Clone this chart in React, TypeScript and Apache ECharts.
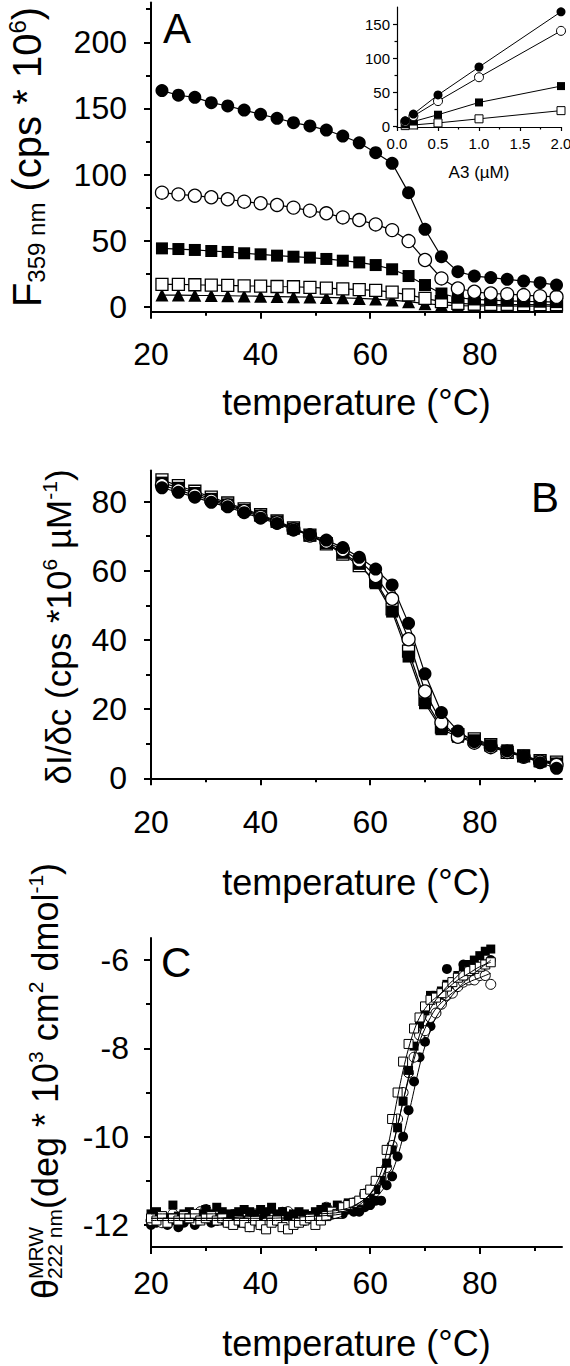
import React, { useEffect, useRef } from 'react';
import * as echarts from 'echarts';

const FONT = "'Liberation Sans', Arial, Helvetica, sans-serif";

// ---------- Panel A (fluorescence vs temperature) ----------
const temps = [22, 25, 28, 31, 34, 37, 40, 43, 46, 49, 52, 55, 58, 61, 64, 67, 70, 73, 76, 79, 82, 85, 88, 91, 94];
const aFilledCircle = [163.5, 160, 158.4, 154.4, 151.9, 148.8, 145.6, 142.6, 139.3, 136.8, 133.7, 129.2, 124.1, 116.6, 108.6, 86.4, 58.7, 38, 26.7, 23.4, 22.2, 20.9, 19.6, 18.4, 16.6];
const aOpenCircle = [86.4, 85.1, 84.1, 82.9, 81.4, 79.6, 78.4, 77.1, 75.1, 72.8, 70.8, 67.7, 65.7, 62.4, 58.1, 49.8, 35.5, 21.6, 14.0, 11.5, 10.2, 9.7, 9.0, 8.2, 7.7];
const aFilledSquare = [44.3, 43.8, 43.1, 42.3, 41.6, 40.6, 39.8, 38.8, 38.0, 37.3, 36.3, 35.0, 33.7, 31.7, 28.5, 23.4, 16.6, 10.2, 7.0, 5.7, 5.2, 4.7, 4.2, 4.0, 3.7];
const aOpenSquare = [17.1, 17.1, 16.8, 16.6, 16.3, 16.0, 15.8, 15.5, 15.3, 14.8, 14.2, 13.7, 13.2, 12.5, 11.2, 9.2, 6.5, 4.0, 2.7, 2.2, 2.0, 1.9, 1.8, 1.8, 1.7];
const aTriangle = [9.0, 9.0, 8.8, 8.7, 8.5, 8.3, 8.1, 7.9, 7.7, 7.5, 7.2, 6.9, 6.5, 6.0, 5.2, 4.0, 2.5, 1.5, 1.0, 0.9, 0.8, 0.8, 0.7, 0.7, 0.6];

// inset
const insetConc = [0.1, 0.2, 0.5, 1.0, 2.0];
const insetFilledCircle = [8, 18, 46, 87, 168];
const insetOpenCircle = [7, 15, 37, 72, 140];
const insetFilledSquare = [3, 7, 17, 35, 59];
const insetOpenSquare = [1, 2, 5, 11, 23];

// ---------- Panel B ----------
const bFilledCircle = [84.0, 82.7, 81.3, 79.8, 78.5, 76.8, 75.2, 73.7, 71.8, 70.4, 68.9, 66.7, 63.9, 60.5, 55.9, 44.8, 30.2, 19.0, 13.7, 10.6, 9.3, 7.9, 6.3, 4.5, 2.9];
const bOpenCircle = [84.8, 83.3, 81.9, 80.3, 78.9, 77.3, 75.6, 74.0, 72.0, 70.2, 68.4, 66.0, 63.0, 58.5, 51.9, 40.2, 25.1, 16.1, 12.0, 10.3, 9.0, 7.6, 6.2, 4.8, 3.9];
const bFilledSquare = [85.5, 84.0, 82.5, 80.8, 79.2, 77.6, 75.9, 74.2, 72.2, 70.2, 68.0, 65.2, 62.0, 56.4, 48.2, 35.2, 21.7, 14.2, 12.0, 11.0, 9.5, 8.1, 6.6, 4.9, 4.3];
const bOpenSquare = [86.3, 84.6, 83.0, 81.3, 79.6, 77.9, 76.2, 74.4, 72.4, 70.3, 67.8, 64.8, 61.5, 57.0, 49.0, 36.8, 22.8, 14.8, 12.6, 11.4, 9.7, 7.5, 6.5, 5.1, 4.7];

// ---------- Panel C (CD) ----------
const cTemps = [20, 21, 22, 23, 24, 25, 26, 27, 28, 29, 30, 31, 32, 33, 34, 35, 36, 37, 38, 39, 40, 41, 42, 43, 44, 45, 46, 47, 48, 49, 50, 51, 52, 53, 54, 55, 56, 57, 58, 59, 60, 61, 62, 63, 64, 65, 66, 67, 68, 69, 70, 71, 72, 73, 74, 75, 76, 77, 78, 79, 80, 81, 82];
const cFilledCircle = [-12.0, -11.95, -11.85, -12.0, -11.9, -12.05, -11.95, -11.85, -12.0, -11.9, -11.8, -11.95, -11.85, -11.9, -11.8, -11.75, -11.95, -11.9, -12.05, -11.85, -11.8, -11.9, -11.75, -11.85, -11.7, -11.8, -11.9, -11.95, -11.85, -11.8, -11.75, -11.85, -11.8, -11.75, -11.7, -11.75, -11.65, -11.7,
  -11.7, -11.6, -11.55, -11.45, -11.45, -11.1, -10.9, -10.45, -10.0, -9.4, -8.75, -8.2, -7.85, -7.5, -7.2, -6.95, -6.2, -6.7, -6.55, -6.1, -6.4, -6.3, -6.2, -6.1, -6.0];
const cOpenCircle = [-11.9, -11.8, -11.95, -11.85, -11.75, -11.9, -11.8, -11.85, -11.9, -11.7, -11.65, -11.8, -11.9, -11.85, -11.95, -11.9, -11.8, -11.95, -11.85, -11.75, -12.0, -11.95, -11.85, -11.9, -11.75, -11.7, -11.85, -11.8, -11.9, -11.85, -11.75, -11.7, -11.6, -11.75, -11.65, -11.6, -11.55, -11.5,
  -11.5, -11.3, -11.25, -11.1, -10.95, -10.7, -10.2, -9.6, -9.0, -8.55, -8.2, -7.7, -7.6, -7.3, -7.2, -7.0, -6.8, -6.75, -6.6, -6.5, -6.45, -6.45, -6.35, -6.35, -6.55];
const cFilledSquare = [-11.75, -11.7, -11.8, -11.85, -11.55, -11.8, -11.75, -11.7, -11.8, -11.75, -11.65, -11.75, -11.6, -11.7, -11.75, -11.8, -11.7, -11.65, -11.7, -11.75, -11.65, -11.7, -11.6, -11.75, -11.7, -11.8, -11.75, -11.7, -11.75, -11.8, -11.7, -11.65, -11.6, -11.75, -11.55, -11.6, -11.5, -11.55,
  -11.5, -11.4, -11.35, -11.2, -11.0, -10.6, -10.3, -9.8, -9.2, -8.5, -7.95, -7.45, -7.15, -6.8, -6.8, -6.7, -6.55, -6.5, -6.35, -6.25, -6.1, -6.0, -5.9, -5.8, -5.75];
const cOpenSquare = [-11.85, -11.9, -11.8, -11.95, -11.85, -11.9, -11.8, -11.85, -11.75, -11.9, -11.85, -11.8, -11.9, -11.85, -11.95, -12.0, -11.9, -11.95, -12.05, -11.9, -12.0, -12.1, -11.95, -11.9, -12.05, -12.1, -12.0, -11.95, -11.9, -11.85, -12.0, -11.9, -11.8, -11.7, -11.75, -11.6, -11.55, -11.5,
  -11.45, -11.3, -11.2, -11.0, -10.8, -10.3, -9.6, -9.0, -8.3, -7.9, -7.55, -7.3, -7.05, -6.9, -6.85, -6.75, -6.6, -6.5, -6.4, -6.35, -6.25, -6.2, -6.15, -6.1, -6.05];

const cFitTemps = [20, 30, 40, 50, 55, 58, 60, 62, 63, 64, 65, 66, 67, 68, 69, 70, 71, 72, 74, 76, 78, 80, 82];
const cFitFilledCircle = [-11.85, -11.85, -11.85, -11.8, -11.75, -11.65, -11.5, -11.25, -11.05, -10.8, -10.45, -10.0, -9.5, -8.95, -8.4, -7.95, -7.6, -7.3, -6.95, -6.65, -6.4, -6.2, -6.0];
const cFitFilledSquare = [-11.75, -11.75, -11.72, -11.7, -11.65, -11.5, -11.3, -10.95, -10.65, -10.25, -9.75, -9.2, -8.65, -8.15, -7.7, -7.35, -7.1, -6.9, -6.6, -6.35, -6.1, -5.9, -5.7];
const cFitOpenCircle = [-11.85, -11.85, -11.8, -11.75, -11.7, -11.5, -11.3, -11.0, -10.7, -10.3, -9.75, -9.2, -8.7, -8.25, -7.85, -7.55, -7.3, -7.1, -6.85, -6.65, -6.5, -6.4, -6.3];
const cFitOpenSquare = [-11.9, -11.9, -11.9, -11.9, -11.8, -11.55, -11.3, -10.8, -10.35, -9.75, -9.1, -8.5, -8.0, -7.6, -7.3, -7.1, -6.95, -6.85, -6.65, -6.45, -6.3, -6.15, -6.05];

// ---------- ticks ----------
const xTicks = [20, 40, 60, 80];
const xMinorTicks = [30, 50, 70, 90];
const aYTicks = [0, 50, 100, 150, 200];
const aYMinorTicks = [25, 75, 125, 175, 225];
const bYTicks = [0, 20, 40, 60, 80];
const bYMinorTicks = [10, 30, 50, 70];
const cYTicks = [-12, -10, -8, -6];
const cYMinorTicks = [-11, -9, -7];
const insetXTicks = [0, 0.5, 1.0, 1.5, 2.0];
const insetXMinorTicks = [0.25, 0.75, 1.25, 1.75];
const insetYTicks = [0, 50, 100, 150];
const insetYMinorTicks = [25, 75, 125];

const xName = 'temperature (°C)';
const insetXName = 'A3 (µM)';

function measure(text: string, size: number): number {
  const ctx = document.createElement('canvas').getContext('2d') as CanvasRenderingContext2D;
  ctx.font = `${size}px ${FONT}`;
  return ctx.measureText(text).width;
}

type Frag = { t: string; k: 'n' | 'sup' | 'sub' } | { stack: [string, string] };

function rotatedTitle(cx: number, cy: number, main: number, small: number, frags: Frag[], supDy: number, subDy: number) {
  const items: { t: string; size: number; u: number; dy: number }[] = [];
  let u = 0;
  for (const f of frags) {
    if ('stack' in f) {
      const w1 = measure(f.stack[0], small);
      const w2 = measure(f.stack[1], small);
      items.push({ t: f.stack[0], size: small, u, dy: supDy });
      items.push({ t: f.stack[1], size: small, u, dy: subDy });
      u += Math.max(w1, w2);
    } else {
      const size = f.k === 'n' ? main : small;
      const dy = f.k === 'sup' ? supDy : f.k === 'sub' ? subDy : 0;
      items.push({ t: f.t, size, u, dy });
      u += measure(f.t, size);
    }
  }
  const W = u;
  return {
    type: 'group',
    x: cx,
    y: cy,
    rotation: Math.PI / 2,
    silent: true,
    children: items.map((it) => ({
      type: 'text',
      x: it.u - W / 2,
      y: it.dy - 0.3465 * it.size,
      style: {
        text: it.t,
        fontSize: it.size,
        fontFamily: FONT,
        fill: '#000',
        align: 'left',
        verticalAlign: 'middle',
      },
    })),
  };
}

function panelLetter(text: string, x: number, baseline: number, align: string) {
  return {
    type: 'text',
    x,
    y: baseline - 0.3465 * 42,
    silent: true,
    style: { text, fontSize: 42, fontFamily: FONT, fill: '#000', align, verticalAlign: 'middle' },
  };
}

function axisPair(
  dim: 'x' | 'y', grid: number, min: number, max: number, major: number[], minor: number[],
  o: { margin: number; font: number; lw: number; len: number; minorLen: number; fmt?: (v: number) => string; name?: string; nameGap?: number; nameSize?: number }
) {
  const position = dim === 'x' ? 'bottom' : 'left';
  const majorAxis: any = {
    type: 'value', gridIndex: grid, min, max, position,
    axisLine: { show: true, onZero: false, lineStyle: { color: '#000', width: o.lw } },
    axisTick: { show: true, inside: false, length: o.len, customValues: major, lineStyle: { color: '#000', width: o.lw } },
    axisLabel: {
      show: true, customValues: major, margin: o.margin, fontSize: o.font, fontFamily: FONT, color: '#000',
      formatter: o.fmt ? o.fmt : (v: number) => String(v),
    },
    splitLine: { show: false },
  };
  if (o.name) {
    majorAxis.name = o.name;
    majorAxis.nameLocation = 'middle';
    majorAxis.nameGap = o.nameGap;
    majorAxis.nameTextStyle = { fontSize: o.nameSize, fontFamily: FONT, color: '#000' };
  }
  const minorAxis: any = {
    type: 'value', gridIndex: grid, min, max, position,
    axisLine: { show: false, onZero: false },
    axisTick: { show: true, inside: false, length: o.minorLen, customValues: minor, lineStyle: { color: '#000', width: o.lw } },
    axisLabel: { show: false },
    splitLine: { show: false },
  };
  return [majorAxis, minorAxis];
}

type Kind = 'fc' | 'oc' | 'fs' | 'os' | 'tri';

function markerStyle(kind: Kind, bw: number) {
  const open = kind === 'oc' || kind === 'os';
  return {
    symbol: kind === 'fc' || kind === 'oc' ? 'circle' : kind === 'tri' ? 'triangle' : 'rect',
    itemStyle: open
      ? { color: '#fff', borderColor: '#000', borderWidth: bw, opacity: 1 }
      : { color: '#000', borderColor: '#000', borderWidth: 0, opacity: 1 },
  };
}

function lineSeries(name: string, xs: number[], ys: number[], kind: Kind, size: number, axis: number, lw: number, bw: number) {
  const m = markerStyle(kind, bw);
  return {
    name, type: 'line', xAxisIndex: axis, yAxisIndex: axis,
    data: xs.map((x, i) => [x, ys[i]]),
    symbol: m.symbol, symbolSize: kind === 'tri' ? size + 1 : kind === 'fs' || kind === 'os' ? size - 1 : size,
    showSymbol: true, showAllSymbol: true, itemStyle: m.itemStyle,
    lineStyle: { color: '#000', width: lw },
    emphasis: { disabled: true }, silent: true, clip: false,
  };
}

function scatterSeries(name: string, xs: number[], ys: number[], kind: Kind, size: number, axis: number, bw: number) {
  const m = markerStyle(kind, bw);
  return {
    name, type: 'scatter', xAxisIndex: axis, yAxisIndex: axis,
    data: xs.map((x, i) => [x, ys[i]]),
    symbol: m.symbol, symbolSize: size, itemStyle: m.itemStyle,
    emphasis: { disabled: true }, silent: true, clip: false,
  };
}

function fitSeries(name: string, xs: number[], ys: number[], axis: number) {
  return {
    name, type: 'line', xAxisIndex: axis, yAxisIndex: axis,
    data: xs.map((x, i) => [x, ys[i]]),
    showSymbol: false, symbol: 'none', smooth: 0.4,
    lineStyle: { color: '#000', width: 1 },
    emphasis: { disabled: true }, silent: true,
  };
}

function buildOption() {
  const gridBase = { containLabel: false, outerBoundsMode: 'none', show: false };
  const grid = [
    { left: 151, top: 2.6, width: 411, height: 309.1, ...gridBase },
    { left: 151, top: 470.5, width: 411, height: 307.8, ...gridBase },
    { left: 151, top: 938, width: 411, height: 309, ...gridBase },
    { left: 397, top: 7, width: 164, height: 120, ...gridBase },
  ];

  const [axA, axAm] = axisPair('x', 0, 20, 95, xTicks, xMinorTicks, { margin: 26, font: 32, lw: 2, len: 7, minorLen: 4, name: xName, nameGap: 73, nameSize: 36 });
  const [axB, axBm] = axisPair('x', 1, 20, 95, xTicks, xMinorTicks, { margin: 28, font: 32, lw: 2, len: 7, minorLen: 4, name: xName, nameGap: 86, nameSize: 36 });
  const [axC, axCm] = axisPair('x', 2, 20, 95, xTicks, xMinorTicks, { margin: 20, font: 32, lw: 2, len: 7, minorLen: 4, name: xName, nameGap: 78, nameSize: 36 });
  const [axI, axIm] = axisPair('x', 3, 0, 2, insetXTicks, insetXMinorTicks, { margin: 9, font: 15, lw: 1.2, len: 4, minorLen: 2.5, fmt: (v) => v.toFixed(1), name: insetXName, nameGap: 37, nameSize: 17 });

  const [ayA, ayAm] = axisPair('y', 0, -3.55, 230, aYTicks, aYMinorTicks, { margin: 24, font: 32, lw: 2, len: 7, minorLen: 5 });
  const [ayB, ayBm] = axisPair('y', 1, 0, 89, bYTicks, bYMinorTicks, { margin: 24, font: 32, lw: 2, len: 7, minorLen: 5 });
  const [ayC, ayCm] = axisPair('y', 2, -12.5, -5.5, cYTicks, cYMinorTicks, { margin: 22, font: 32, lw: 2, len: 7, minorLen: 5 });
  const [ayI, ayIm] = axisPair('y', 3, -1, 175, insetYTicks, insetYMinorTicks, { margin: 7, font: 15, lw: 1.2, len: 4, minorLen: 2.5 });

  // axis index: 0 A, 2 B, 4 C, 6 inset (odd ones are the minor-tick companions)
  const xAxis = [axA, axAm, axB, axBm, axC, axCm, axI, axIm];
  const yAxis = [ayA, ayAm, ayB, ayBm, ayC, ayCm, ayI, ayIm];

  const series: any[] = [
    // Panel A
    lineSeries('A triangle', temps, aTriangle, 'tri', 12, 0, 1.2, 1.3),
    lineSeries('A open square', temps, aOpenSquare, 'os', 13, 0, 1.2, 1.3),
    lineSeries('A filled square', temps, aFilledSquare, 'fs', 13, 0, 1.2, 1.3),
    lineSeries('A open circle', temps, aOpenCircle, 'oc', 13, 0, 1.2, 1.3),
    lineSeries('A filled circle', temps, aFilledCircle, 'fc', 13, 0, 1.2, 1.3),
    // Inset
    lineSeries('inset open square', insetConc, insetOpenSquare, 'os', 9, 6, 1, 1),
    lineSeries('inset filled square', insetConc, insetFilledSquare, 'fs', 9, 6, 1, 1),
    lineSeries('inset open circle', insetConc, insetOpenCircle, 'oc', 9, 6, 1, 1),
    lineSeries('inset filled circle', insetConc, insetFilledCircle, 'fc', 9, 6, 1, 1),
    // Panel B
    lineSeries('B open square', temps, bOpenSquare, 'os', 13, 2, 1.2, 1.3),
    lineSeries('B filled square', temps, bFilledSquare, 'fs', 13, 2, 1.2, 1.3),
    lineSeries('B open circle', temps, bOpenCircle, 'oc', 13, 2, 1.2, 1.3),
    lineSeries('B filled circle', temps, bFilledCircle, 'fc', 13, 2, 1.2, 1.3),
    // Panel C
    fitSeries('C fit open square', cFitTemps, cFitOpenSquare, 4),
    fitSeries('C fit filled square', cFitTemps, cFitFilledSquare, 4),
    fitSeries('C fit open circle', cFitTemps, cFitOpenCircle, 4),
    fitSeries('C fit filled circle', cFitTemps, cFitFilledCircle, 4),
    scatterSeries('C filled circle', cTemps, cFilledCircle, 'fc', 10, 4, 1),
    scatterSeries('C open circle', cTemps, cOpenCircle, 'oc', 10, 4, 1),
    scatterSeries('C filled square', cTemps, cFilledSquare, 'fs', 9, 4, 1),
    scatterSeries('C open square', cTemps, cOpenSquare, 'os', 9, 4, 1),
  ];

  const graphic = [
    panelLetter('A', 163, 43, 'left'),
    panelLetter('B', 559, 512, 'right'),
    panelLetter('C', 161, 977, 'left'),
    rotatedTitle(41, 157, 40, 24, [
      { t: 'F', k: 'n' }, { t: '359 nm', k: 'sub' }, { t: ' (cps * 10', k: 'n' }, { t: '6', k: 'sup' }, { t: ')', k: 'n' },
    ], -15, 4),
    rotatedTitle(71, 627, 35, 21, [
      { t: 'δI/δc (cps *10', k: 'n' }, { t: '6', k: 'sup' }, { t: ' µM', k: 'n' }, { t: '-1', k: 'sup' }, { t: ')', k: 'n' },
    ], -14, 4),
    rotatedTitle(58, 1081, 36, 21, [
      { t: 'θ', k: 'n' }, { stack: ['MRW', '222 nm'] }, { t: '(deg * 10', k: 'n' }, { t: '3', k: 'sup' },
      { t: ' cm', k: 'n' }, { t: '2', k: 'sup' }, { t: ' dmol', k: 'n' }, { t: '-1', k: 'sup' }, { t: ')', k: 'n' },
    ], -15, 4),
  ];

  return {
    animation: false,
    backgroundColor: '#fff',
    textStyle: { fontFamily: FONT },
    grid,
    xAxis,
    yAxis,
    series,
    graphic,
  };
}

export default function App() {
  const ref = useRef<HTMLDivElement>(null);
  useEffect(() => {
    if (!ref.current) return;
    const chart = echarts.init(ref.current, null, { renderer: 'svg' });
    chart.setOption(buildOption() as any);
    return () => chart.dispose();
  }, []);
  return <div ref={ref} style={{ position: 'absolute', left: 0, top: 0, width: 570, height: 1366, background: '#fff' }} />;
}
